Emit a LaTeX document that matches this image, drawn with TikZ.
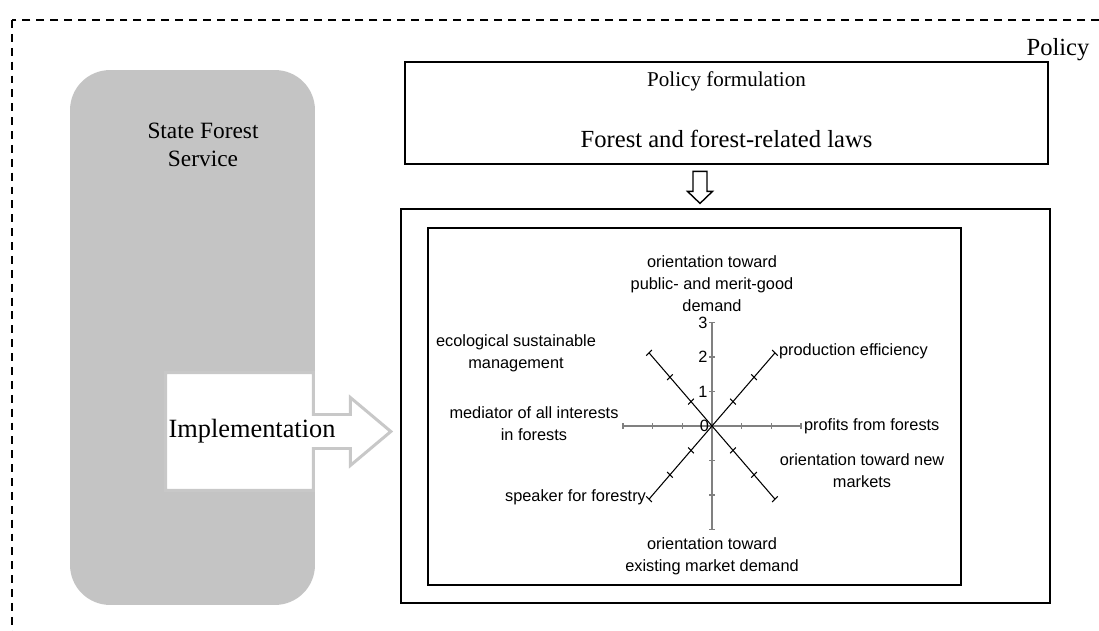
\documentclass[tikz,border=0pt]{standalone}
\usepackage{fontspec}
\setmainfont{Liberation Serif}
\setsansfont{Liberation Sans}
\usetikzlibrary{calc}
\usetikzlibrary{positioning}
\definecolor{sfsgray}{RGB}{196,196,196}
\definecolor{arrgray}{RGB}{200,200,200}
\definecolor{axgray}{RGB}{128,128,128}
\begin{document}
\begin{tikzpicture}[x=0.02cm, y=-0.02cm,
	bigtxt/.style={font=\fontsize{14}{17}\selectfont, inner sep=0pt},
	lbl/.style={font=\sffamily\fontsize{9.3}{12.5}\selectfont, align=center, inner sep=1pt},
	box/.style={rectangle, draw, line width=1.1pt, inner sep=0pt},
	sfs/.style={rectangle, rounded corners=0.8cm, fill=sfsgray,
				minimum width=4.9cm, minimum height=10.7cm},
	hollow/.style={draw, fill=white, line width=0.8pt, line join=miter},
	axis/.style={axgray, line width=1.3pt},
	diag/.style={black, line width=0.6pt},
]
\useasboundingbox (0,0) rectangle (1099,631);
\clip (0,0) rectangle (1099,631);
\draw [dash pattern=on 4.5pt off 3.4pt, line width=0.8pt] (12,20) rectangle (1130,660);
\node [bigtxt] (policy) at (1058,50) {Policy};
%
\node [sfs] (sfs) at (192.5,337.5) {};
\node [font=\fontsize{13.3}{16}\selectfont, align=center, inner sep=0pt,
	below=1.05cm of sfs.north, xshift=0.21cm] (sfst) {State Forest\\Service};
%
\node [box, minimum width=12.86cm, minimum height=2.04cm] (pf) at (726.5,113) {};
\node [font=\fontsize{12}{14}\selectfont, inner sep=0pt, below=0.2cm of pf.north] (pft) {Policy formulation};
\node [bigtxt, above=0.34cm of pf.south] (laws) {Forest and forest-related laws};
\node [box, line width=1.4pt, minimum width=12.98cm, minimum height=7.88cm] (chart) at (725.5,406) {};
\node [box, line width=0.8pt, minimum width=10.66cm, minimum height=7.14cm] (plot) at (694.5,406.5) {};
\coordinate (down) at ($(pf.south)!0.5!(chart.north)+(-26,0)$);
\draw [hollow] (down) ++(-7,-15) -- ++(14,0) -- ++(0,20) -- ++(5.5,0) -- ++(-12.5,12)
	-- ++(-12.5,-12) -- ++(5.5,0) -- cycle;
%
\node [minimum width=2.94cm, minimum height=2.34cm, inner sep=0pt] (body) at (239.5,431.5) {};
\coordinate (tip) at ($(body.east -| chart.west)+(-9,0)$);
\draw [arrgray, fill=white, line width=1.7pt] (body.north west) -- (body.north east)
	-- ($(body.east)+(0,-17)$) -- ++(37,0) -- ++(0,-17) -- (tip)
	-- ($(body.east)+(37,34)$) -- ++(0,-17) -- ($(body.east)+(0,17)$)
	-- (body.south east) -- (body.south west) -- cycle;
\node [font=\fontsize{15}{18}\selectfont, inner sep=0pt] (impl) at ($(body.center)+(12.5,0)$) {Implementation};
%
\coordinate (o) at (712,426);
\begin{scope}[shift={(o)}, x=0.594cm, y=0.69cm]
\draw [axis] (-3,0) -- (3,0);
\draw [axis] (0,-3) -- (0,3);
\foreach \a in {45,135,225,315}
	\draw [diag] (0,0) -- ({3*cos(\a)},{3*sin(\a)});
\foreach \r in {1,2,3} {
	\draw [axis, line width=0.9pt] (\r,0) +(0,-0.06cm) -- +(0,0.06cm);
	\draw [axis, line width=0.9pt] (-\r,0) +(0,-0.06cm) -- +(0,0.06cm);
	\draw [axis, line width=0.9pt] (0,\r) +(-0.06cm,0) -- +(0.06cm,0);
	\draw [axis, line width=0.9pt] (0,-\r) +(-0.06cm,0) -- +(0.06cm,0);
	\node [lbl, anchor=east, xshift=-0.05cm] at (0,\r) {\r};
	\foreach \a in {45,135,225,315}
		\draw [diag] ({\r*cos(\a)},{\r*sin(\a)}) +(\a+90:0.08cm) -- +(\a-90:0.08cm);
}
\node [lbl, anchor=east, xshift=-0.02cm] at (0,0) {0};
\end{scope}
%
\node [lbl, anchor=south] (pub) at (712,314) {orientation toward\\public- and merit-good\\demand};
\node [lbl, anchor=west] (prod) at (777,351) {production efficiency};
\node [lbl, anchor=west] (prof) at (802,426) {profits from forests};
\node [lbl] (newm) at (862,471) {orientation toward new\\markets};
\node [lbl] (exist) at (712,556) {orientation toward\\existing market demand};
\node [lbl, anchor=east] (speak) at (648,497) {speaker for forestry};
\node [lbl] (medi) at (534,424) {mediator of all interests\\in forests};
\node [lbl] (eco) at (516,353) {ecological sustainable\\management};
\end{tikzpicture}
\end{document}
